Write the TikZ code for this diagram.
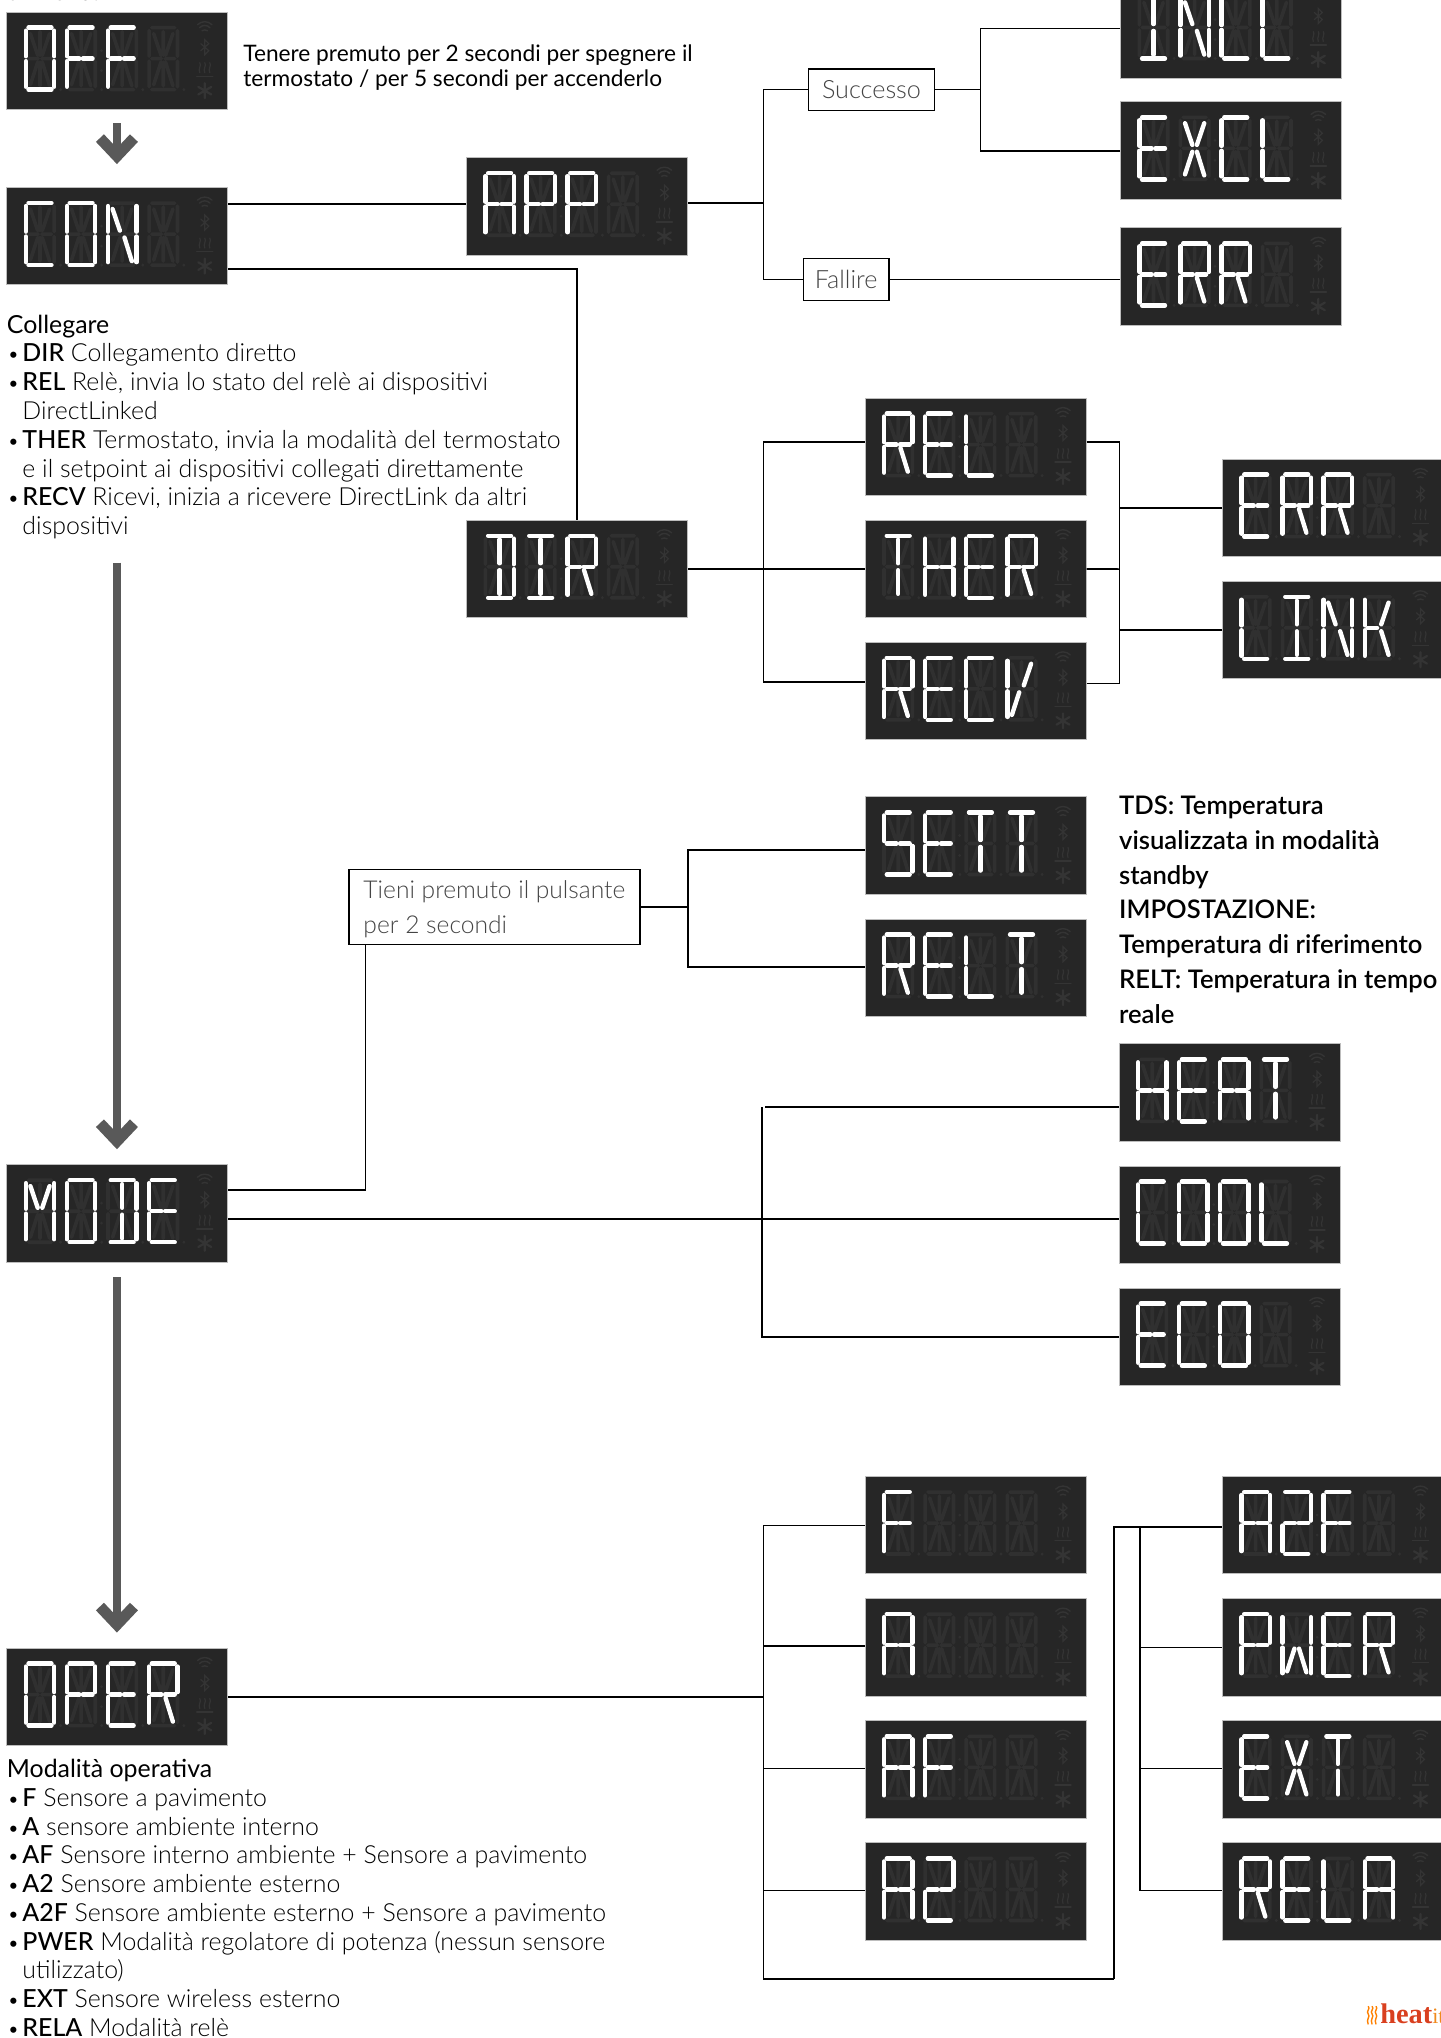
\documentclass[tikz,border=0pt]{standalone}
\usepackage{fontspec}
\setmainfont{Lato}
\newfontfamily\lt{Lato Light}
\newfontfamily\md{Lato Medium}
\newfontfamily\sembold{Lato Semibold}
\newfontfamily\logofont{Liberation Serif}
\usetikzlibrary{arrows.meta}
\definecolor{panelc}{HTML}{262626}
\definecolor{ghost}{HTML}{303030}
\definecolor{iconc}{HTML}{343434}
\definecolor{edgec}{HTML}{BDBDBD}
\definecolor{arrowc}{HTML}{595959}
\definecolor{labelc}{HTML}{444444}
% segments, local ref-pixel coordinates
\def\sega{(3,0)--(28,0)}
\def\segb{(31,3)--(31,29)}
\def\segc{(31,34)--(31,60)}
\def\segd{(3,63)--(28,63)}
\def\sege{(0,34)--(0,60)}
\def\segf{(0,3)--(0,29)}
\def\segg{(3,31.5)--(13.5,31.5)}
\def\segh{(17.5,31.5)--(28,31.5)}
\def\segi{(15.5,4)--(15.5,28)}
\def\segj{(15.5,35)--(15.5,59)}
\def\segk{(5,6)--(13,28)}
\def\segl{(26,6)--(18,28)}
\def\segm{(13,35)--(5,58)}
\def\segn{(18,35)--(26,59)}
\def\segz{}
\def\glyphO{a,b,c,d,e,f}
\def\glyphF{a,e,f,g,h}
\def\glyphC{a,d,e,f}
\def\glyphN{b,c,e,f,k,n}
\def\glyphA{a,b,c,e,f,g,h}
\def\glyphP{a,b,e,f,g,h}
\def\glyphI{a,d,i,j}
\def\glyphL{d,e,f}
\def\glyphE{a,d,e,f,g,h}
\def\glyphX{k,l,m,n}
\def\glyphR{a,b,e,f,g,h,n}
\def\glyphT{a,i,j}
\def\glyphH{b,c,e,f,g,h}
\def\glyphD{a,b,c,d,i,j}
\def\glyphS{a,c,d,f,g,h}
\def\glyphM{b,c,e,f,k,l}
\def\glyphV{e,f,l,m}
\def\glyphK{e,f,g,l,n}
\def\glyphW{b,c,e,f,m,n}
\def\glyphTwo{a,b,d,e,g,h}
\def\glyphZ{z}
\tikzset{
  ln/.style={draw=black,line width=0.85pt},
  panel/.style={draw=edgec,line width=0.5pt,fill=panelc,anchor=north west,inner sep=0pt,
    minimum width=110.5pt,minimum height=48.7pt},
  ghostseg/.style={draw=ghost,line width=1.8pt,line cap=round},
  litseg/.style={draw=white,line width=2.2pt,line cap=round},
  bigarrow/.style={draw=arrowc,line width=4.2pt,-{Straight Barb[length=9pt,width=17pt,line width=5.5pt]}},
  lbox/.style={draw=black,line width=0.65pt,fill=white,inner sep=0pt,text=labelc,font=\lt\fontsize{12.6}{17.5}\selectfont},
  body/.style={anchor=north west,inner sep=0pt,align=left,font=\lt\fontsize{12.45}{14.4}\selectfont,text=black},
  strong/.style={anchor=north west,inner sep=0pt,align=left,font=\sembold\fontsize{12.8}{17.35}\selectfont,text=black},
}
\newcommand\lcdcell[2]{%
  \begin{scope}[shift={({19.3+41.1*#1},16)},xscale=0.916,yscale=0.984]
    \draw[ghostseg] \sega \segb \segc \segd \sege \segf \segg \segh \segi \segj \segk \segl \segm \segn;
    \fill[ghost] (38,63) circle (1.7);
    \expandafter\let\expandafter\curglyph\csname glyph#2\endcsname
    \foreach \s in \curglyph {\draw[litseg] \csname seg\s\endcsname;}
  \end{scope}}
\newcommand\lcd[7]{% name,x,y,g1..g4
  \node[panel] (#1) at (#2,#3) {};
  \begin{scope}[shift={(#2,#3)},scale=0.7696]
    \lcdcell{0}{#4}\lcdcell{1}{#5}\lcdcell{2}{#6}\lcdcell{3}{#7}
    \fill[ghost] (95,39) circle (1.5) (95,59) circle (1.5);
    \begin{scope}[line cap=round]
      \draw[iconc,line width=0.7pt] (191,13) .. controls (195,9) and (201.5,9) .. (205.5,13)
        (193,16) .. controls (196,13) and (200.5,13) .. (203.5,16)
        (195.5,19) .. controls (197,18) and (199.5,18) .. (201,19);
      \draw[iconc,line width=0.6pt] (194.3,32)--(202.3,39)--(198.3,43)--(198.3,28)--(202.3,32)--(194.3,39);
      \draw[iconc,line width=0.6pt] (193.3,51) .. controls (195.3,54) and (191.3,57) .. (193.3,61)
        (198.3,51) .. controls (200.3,54) and (196.3,57) .. (198.3,61)
        (203.3,51) .. controls (205.3,54) and (201.3,57) .. (203.3,61);
      \draw[iconc,line width=0.7pt] (190.3,64.6)--(206.3,64.6);
      \draw[iconc,line width=1.1pt] (198.3,71.5)--(198.3,86.5) (191.8,75.2)--(204.8,82.8) (191.8,82.8)--(204.8,75.2);
    \end{scope}
  \end{scope}}
\newcommand\bl[1]{\makebox[7.8pt][l]{\hspace{0.3pt}\lt\fontsize{10.5}{10}\selectfont•}{\md #1}}
\newcommand\cn{\hspace*{7.8pt}}
\begin{document}
\begin{tikzpicture}[x=0.6497pt,y=-0.6497pt]
\useasboundingbox (0,0) rectangle (1109,1568.5);
\begin{scope}
\clip (0,0) rectangle (1109,1568.5);
\lcd{off}{5}{9}{O}{F}{F}{Z}
\lcd{con}{5}{144}{C}{O}{N}{Z}
\lcd{app}{358.7}{121}{A}{P}{P}{Z}
\lcd{incl}{862}{-15}{I}{N}{C}{L}
\lcd{excl}{862}{78}{E}{X}{C}{L}
\lcd{err}{862}{175}{E}{R}{R}{Z}
\lcd{dir}{358.7}{400}{D}{I}{R}{Z}
\lcd{rel}{665.5}{306}{R}{E}{L}{Z}
\lcd{ther}{665.5}{400}{T}{H}{E}{R}
\lcd{recv}{665.5}{494}{R}{E}{C}{V}
\lcd{errb}{940.6}{353}{E}{R}{R}{Z}
\lcd{link}{940.6}{447}{L}{I}{N}{K}
\lcd{sett}{665.5}{613}{S}{E}{T}{T}
\lcd{relt}{665.5}{707}{R}{E}{L}{T}
\lcd{heat}{861}{803}{H}{E}{A}{T}
\lcd{cool}{861}{897}{C}{O}{O}{L}
\lcd{eco}{861}{991}{E}{C}{O}{Z}
\lcd{mode}{5}{896}{M}{O}{D}{E}
\lcd{oper}{5}{1268}{O}{P}{E}{R}
\lcd{f}{665.5}{1136}{F}{Z}{Z}{Z}
\lcd{a}{665.5}{1230}{A}{Z}{Z}{Z}
\lcd{af}{665.5}{1324}{A}{F}{Z}{Z}
\lcd{atwo}{665.5}{1418}{A}{Two}{Z}{Z}
\lcd{atwof}{940.6}{1136}{A}{Two}{F}{Z}
\lcd{pwer}{940.6}{1230}{P}{W}{E}{R}
\lcd{ext}{940.6}{1324}{E}{X}{T}{Z}
\lcd{rela}{940.6}{1418}{R}{E}{L}{A}
% label boxes
\node[lbox,minimum width=63pt,minimum height=20.8pt] (succ) at (670.7,69) {Successo};
\node[lbox,minimum width=42.9pt,minimum height=20.8pt] (fall) at (651.2,215) {Fallire};
\node[lbox,minimum width=145.5pt,minimum height=37.7pt,anchor=west,align=left,font=\lt\fontsize{12.3}{17.5}\selectfont] (tien) at (268,698) {\rule{0pt}{11.6pt}Tieni premuto il pulsante\\per 2 secondi};
% junctions
\coordinate (j1) at (587.6,156);
\coordinate (j2) at (754.5,69);
\coordinate (j3) at (587.6,438);
\coordinate (j4) at (861.5,438);
\coordinate (j5) at (529.5,698);
\coordinate (j6) at (281.2,727);
\coordinate (j7) at (586.6,852);
\coordinate (j7b) at (589,852);
\coordinate (j8) at (586.6,938);
\coordinate (j9) at (587.6,1306);
\coordinate (j10) at (857.5,1523);
\coordinate (j11) at (877.5,1175);
\coordinate (c2) at (con.east |- 0,207);
% connectors
\draw[ln] (con.east |- 0,157) -- (app.west |- 0,157);
\draw[ln] (app.east |- j1) -- (j1);
\draw[ln] (succ.west) -| (j1);
\draw[ln] (fall.west) -| (j1);
\draw[ln] (succ.east) -- (j2);
\draw[ln] (incl.west |- 0,22) -| (j2);
\draw[ln] (excl.west |- 0,116) -| (j2);
\draw[ln] (fall.east) -- (err.west |- fall.east);
\draw[ln] (c2) -| (dir.north);
\draw[ln] (dir.east) -- (ther.west);
\draw[ln] (rel.west |- 0,340) -| (j3);
\draw[ln] (recv.west |- 0,525) -| (j3);
\draw[ln] (rel.east |- 0,340) -| (j4);
\draw[ln] (recv.east |- 0,526) -| (j4);
\draw[ln] (ther.east) -- (j4);
\draw[ln] (errb.west) -- (errb.west -| j4);
\draw[ln] (link.west) -- (link.west -| j4);
\draw[ln] (mode.east |- 0,916) -| (j6);
\draw[ln] (tien.east) -- (j5);
\draw[ln] (sett.west |- 0,654) -| (j5);
\draw[ln] (relt.west |- 0,744) -| (j5);
\draw[ln] (mode.east |- j8) -- (cool.west |- j8);
\draw[ln] (heat.west |- j7b) -- (j7b);
\draw[ln] (j7) |- (eco.west |- 0,1029);
\draw[ln] (oper.east |- j9) -- (j9);
\draw[ln] (f.west |- 0,1174) -| (j9);
\draw[ln] (a.west |- 0,1267) -| (j9);
\draw[ln] (af.west |- 0,1361) -| (j9);
\draw[ln] (atwo.west |- 0,1455) -| (j9);
\draw[ln] (j9) |- (j10);
\draw[ln] (j10) |- (atwof.west |- 0,1175);
\draw[ln] (pwer.west |- 0,1268) -| (j11);
\draw[ln] (ext.west |- 0,1361) -| (j11);
\draw[ln] (j11) |- (rela.west |- 0,1455);
% big arrows
\coordinate (s1) at (90,433);
\coordinate (s2) at (90,983);
\draw[bigarrow] (90,95) coordinate (s0) -- ([yshift=11.5pt]con.north -| s0);
\draw[bigarrow] (s1) -- ([yshift=7.5pt]mode.north -| s1);
\draw[bigarrow] (s2) -- ([yshift=7.5pt]oper.north -| s2);
% texts
\node[body] (tmenu) at (5,-14) {di menu.};
\node[anchor=north west,inner sep=0pt,align=left,font=\fontsize{11.35}{12.35}\selectfont] (tpress) at (187,34.5) {Tenere premuto per 2 secondi per spegnere il\\termostato / per 5 secondi per accenderlo};
\node[body] (tcoll) at (5,242) {{\rmfamily Collegare}\\
\bl{DIR} Collegamento diretto\\
\bl{REL} Relè, invia lo stato del relè ai dispositivi\\
\cn DirectLinked\\
\bl{THER} Termostato, invia la modalità del termostato\\
\cn e il setpoint ai dispositivi collegati direttamente\\
\bl{RECV} Ricevi, inizia a ricevere DirectLink da altri\\
\cn dispositivi};
\node[strong] (ttds) at (861,612.5) {TDS: Temperatura\\visualizzata in modalità\\standby\\IMPOSTAZIONE:\\Temperatura di riferimento\\RELT: Temperatura in tempo\\reale};
\node[body] (toper) at (5,1353.5) {{\rmfamily Modalità operativa}\\
\bl{F} Sensore a pavimento\\
\bl{A} sensore ambiente interno\\
\bl{AF} Sensore interno ambiente + Sensore a pavimento\\
\bl{A2} Sensore ambiente esterno\\
\bl{A2F} Sensore ambiente esterno + Sensore a pavimento\\
\bl{PWER} Modalità regolatore di potenza (nessun sensore\\
\cn utilizzato)\\
\bl{EXT} Sensore wireless esterno\\
\bl{RELA} Modalità relè};
% logo
\foreach \lx in {1053,1056,1059}{
  \draw[orange,line width=0.7pt] (\lx,1544) .. controls (\lx+2,1546) and (\lx-2,1548) .. (\lx,1550) .. controls (\lx+2,1552) and (\lx-2,1554) .. (\lx,1558);}
\node[anchor=base west,inner sep=0pt,font=\logofont\fontsize{14.2}{14}\selectfont] (logo) at (1062,1557) {\textcolor[HTML]{D9401F}{\bfseries heat}\textcolor[HTML]{F08A1D}{\fontsize{11}{11}\selectfont it}};
\end{scope}
\end{tikzpicture}
\end{document}
